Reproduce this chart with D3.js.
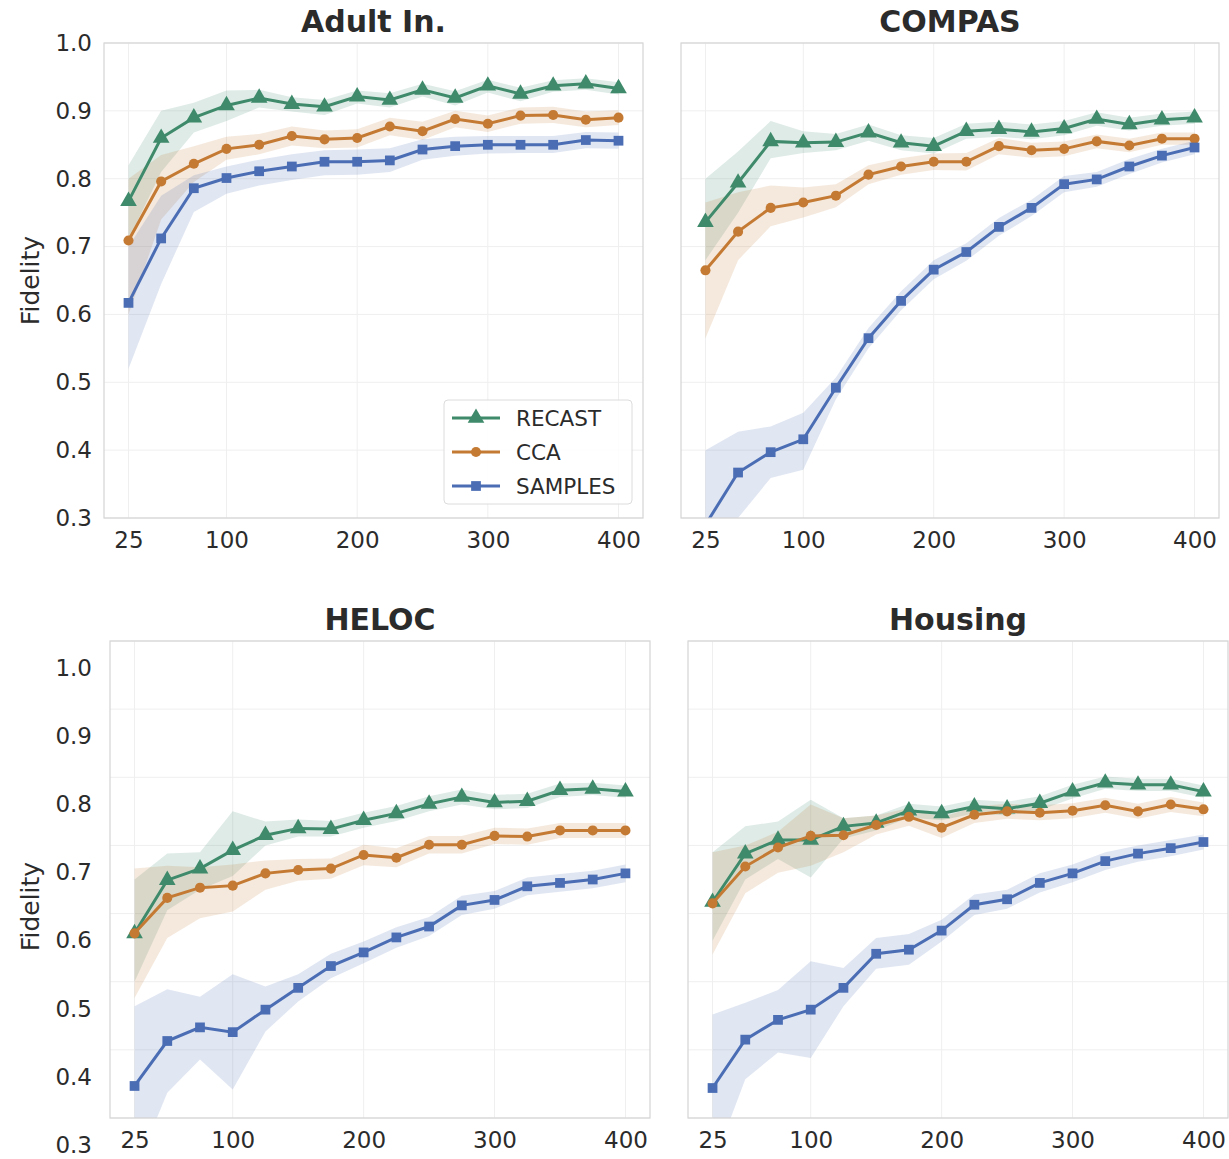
<!DOCTYPE html>
<html>
<head>
<meta charset="utf-8">
<script src="https://cdn.jsdelivr.net/npm/d3@7"></script>
<style>
  body { margin: 0; background: #fff; }
  svg { display: block; font-family: "DejaVu Sans", sans-serif; }
</style>
</head>
<body>
<div class="chart"></div>
<script>
// Sample sizes on the x axis
const sizes = [25, 50, 75, 100, 125, 150, 175, 200, 225, 250, 275, 300, 325, 350, 375, 400];
const xTicks = [25, 100, 200, 300, 400];
const yTicks = [0.3, 0.4, 0.5, 0.6, 0.7, 0.8, 0.9, 1.0];
const datasets = ["Adult In.", "COMPAS", "HELOC", "Housing"];
const methods = ["RECAST", "CCA", "SAMPLES"];

// Adult In.
const adultRecast   = [0.767, 0.860, 0.890, 0.908, 0.919, 0.910, 0.906, 0.921, 0.916, 0.931, 0.919, 0.937, 0.925, 0.937, 0.940, 0.933];
const adultRecastLo = [0.71, 0.81, 0.868, 0.885, 0.905, 0.899, 0.894, 0.911, 0.905, 0.921, 0.908, 0.927, 0.914, 0.928, 0.931, 0.924];
const adultRecastHi = [0.82, 0.90, 0.912, 0.930, 0.931, 0.920, 0.916, 0.930, 0.926, 0.940, 0.929, 0.946, 0.934, 0.945, 0.948, 0.942];
const adultCca      = [0.709, 0.796, 0.822, 0.844, 0.850, 0.863, 0.858, 0.860, 0.877, 0.870, 0.888, 0.881, 0.893, 0.894, 0.887, 0.890];
const adultCcaLo    = [0.60, 0.74, 0.795, 0.828, 0.836, 0.849, 0.845, 0.846, 0.864, 0.857, 0.876, 0.869, 0.881, 0.882, 0.876, 0.879];
const adultCcaHi    = [0.80, 0.835, 0.848, 0.862, 0.866, 0.877, 0.871, 0.873, 0.890, 0.884, 0.900, 0.893, 0.905, 0.906, 0.899, 0.901];
const adultSamples   = [0.617, 0.712, 0.786, 0.801, 0.811, 0.818, 0.825, 0.825, 0.827, 0.843, 0.848, 0.850, 0.850, 0.850, 0.857, 0.856];
const adultSamplesLo = [0.52, 0.645, 0.751, 0.778, 0.790, 0.798, 0.805, 0.806, 0.810, 0.828, 0.834, 0.837, 0.838, 0.838, 0.845, 0.844];
const adultSamplesHi = [0.70, 0.775, 0.805, 0.818, 0.828, 0.836, 0.842, 0.843, 0.845, 0.858, 0.862, 0.863, 0.863, 0.863, 0.869, 0.868];

// COMPAS
const compasRecast   = [0.736, 0.794, 0.855, 0.853, 0.854, 0.868, 0.853, 0.848, 0.870, 0.873, 0.869, 0.874, 0.888, 0.880, 0.887, 0.890];
const compasRecastLo = [0.68, 0.75, 0.83, 0.838, 0.842, 0.856, 0.842, 0.837, 0.859, 0.862, 0.858, 0.864, 0.878, 0.871, 0.878, 0.881];
const compasRecastHi = [0.80, 0.84, 0.885, 0.870, 0.866, 0.880, 0.864, 0.860, 0.881, 0.884, 0.880, 0.885, 0.898, 0.890, 0.896, 0.899];
const compasCca      = [0.665, 0.722, 0.757, 0.765, 0.775, 0.806, 0.818, 0.825, 0.825, 0.848, 0.842, 0.844, 0.855, 0.849, 0.859, 0.859];
const compasCcaLo    = [0.565, 0.68, 0.73, 0.743, 0.758, 0.792, 0.806, 0.813, 0.812, 0.836, 0.831, 0.833, 0.845, 0.839, 0.850, 0.850];
const compasCcaHi    = [0.765, 0.78, 0.79, 0.787, 0.792, 0.820, 0.830, 0.837, 0.838, 0.860, 0.853, 0.855, 0.865, 0.859, 0.868, 0.868];
const compasSamples   = [0.29, 0.367, 0.397, 0.416, 0.492, 0.565, 0.620, 0.666, 0.692, 0.729, 0.757, 0.792, 0.799, 0.818, 0.834, 0.846];
const compasSamplesLo = [0.17, 0.30, 0.359, 0.371, 0.475, 0.550, 0.606, 0.652, 0.679, 0.716, 0.745, 0.780, 0.788, 0.807, 0.824, 0.836];
const compasSamplesHi = [0.40, 0.427, 0.435, 0.455, 0.507, 0.580, 0.634, 0.680, 0.705, 0.742, 0.769, 0.804, 0.810, 0.829, 0.844, 0.856];

// HELOC
const helocRecast   = [0.571, 0.649, 0.666, 0.693, 0.715, 0.725, 0.724, 0.737, 0.747, 0.761, 0.771, 0.763, 0.765, 0.781, 0.783, 0.779];
const helocRecastLo = [0.50, 0.605, 0.635, 0.655, 0.700, 0.713, 0.713, 0.726, 0.736, 0.750, 0.760, 0.753, 0.755, 0.771, 0.774, 0.770];
const helocRecastHi = [0.65, 0.688, 0.690, 0.750, 0.735, 0.738, 0.736, 0.748, 0.758, 0.772, 0.782, 0.774, 0.776, 0.791, 0.792, 0.788];
const helocCca      = [0.571, 0.623, 0.638, 0.641, 0.659, 0.664, 0.666, 0.686, 0.682, 0.701, 0.701, 0.714, 0.713, 0.722, 0.722, 0.722];
const helocCcaLo    = [0.476, 0.564, 0.593, 0.603, 0.635, 0.648, 0.651, 0.671, 0.668, 0.688, 0.688, 0.702, 0.701, 0.711, 0.711, 0.711];
const helocCcaHi    = [0.666, 0.670, 0.668, 0.672, 0.678, 0.680, 0.681, 0.701, 0.696, 0.714, 0.714, 0.726, 0.725, 0.733, 0.733, 0.733];
const helocSamples   = [0.347, 0.413, 0.433, 0.426, 0.459, 0.491, 0.523, 0.543, 0.565, 0.581, 0.612, 0.620, 0.640, 0.645, 0.650, 0.659];
const helocSamplesLo = [0.22, 0.337, 0.386, 0.342, 0.427, 0.471, 0.505, 0.527, 0.550, 0.567, 0.598, 0.607, 0.627, 0.632, 0.637, 0.646];
const helocSamplesHi = [0.464, 0.489, 0.478, 0.511, 0.493, 0.511, 0.541, 0.559, 0.580, 0.595, 0.626, 0.633, 0.653, 0.658, 0.663, 0.672];

// Housing
const housingRecast   = [0.617, 0.688, 0.708, 0.708, 0.728, 0.733, 0.751, 0.747, 0.757, 0.754, 0.762, 0.779, 0.792, 0.789, 0.789, 0.779];
const housingRecastLo = [0.56, 0.65, 0.68, 0.653, 0.71, 0.722, 0.741, 0.737, 0.747, 0.744, 0.752, 0.769, 0.783, 0.780, 0.780, 0.770];
const housingRecastHi = [0.69, 0.728, 0.735, 0.767, 0.74, 0.744, 0.761, 0.757, 0.767, 0.764, 0.772, 0.789, 0.801, 0.798, 0.798, 0.788];
const housingCca      = [0.615, 0.669, 0.697, 0.714, 0.715, 0.730, 0.742, 0.726, 0.745, 0.750, 0.748, 0.751, 0.759, 0.750, 0.760, 0.753];
const housingCcaLo    = [0.54, 0.63, 0.66, 0.67, 0.69, 0.716, 0.729, 0.711, 0.733, 0.739, 0.737, 0.740, 0.748, 0.739, 0.749, 0.743];
const housingCcaHi    = [0.69, 0.70, 0.72, 0.76, 0.74, 0.744, 0.755, 0.741, 0.757, 0.761, 0.759, 0.762, 0.770, 0.761, 0.771, 0.763];
const housingSamples   = [0.344, 0.415, 0.444, 0.459, 0.491, 0.541, 0.547, 0.575, 0.613, 0.621, 0.645, 0.659, 0.677, 0.688, 0.696, 0.705];
const housingSamplesLo = [0.229, 0.357, 0.396, 0.388, 0.464, 0.519, 0.525, 0.559, 0.598, 0.607, 0.631, 0.646, 0.664, 0.676, 0.684, 0.694];
const housingSamplesHi = [0.452, 0.469, 0.488, 0.530, 0.520, 0.564, 0.570, 0.591, 0.628, 0.635, 0.659, 0.672, 0.690, 0.700, 0.708, 0.716];

// Colors and marker shapes per method
const colors = { RECAST: "#3e8a6b", CCA: "#c47a33", SAMPLES: "#4a6db4" };
const symbols = { RECAST: d3.symbolTriangle, CCA: d3.symbolCircle, SAMPLES: d3.symbolSquare };
const symbolSizes = { RECAST: 120, CCA: 80, SAMPLES: 95 };

// Panel layout (frames in pixels)
const panels = [
  { title: datasets[0], x0: 104, x1: 643, y0: 43, y1: 518, yLabels: true, tickGap: 12, labelShift: 0, legend: true,
    series: [[adultRecast, adultRecastLo, adultRecastHi], [adultCca, adultCcaLo, adultCcaHi], [adultSamples, adultSamplesLo, adultSamplesHi]] },
  { title: datasets[1], x0: 681, x1: 1219, y0: 43, y1: 518, yLabels: false, tickGap: 12, labelShift: 0, legend: false,
    series: [[compasRecast, compasRecastLo, compasRecastHi], [compasCca, compasCcaLo, compasCcaHi], [compasSamples, compasSamplesLo, compasSamplesHi]] },
  { title: datasets[2], x0: 110, x1: 650, y0: 641, y1: 1118, yLabels: true, tickGap: 18, labelShift: 27, legend: false,
    series: [[helocRecast, helocRecastLo, helocRecastHi], [helocCca, helocCcaLo, helocCcaHi], [helocSamples, helocSamplesLo, helocSamplesHi]] },
  { title: datasets[3], x0: 688, x1: 1228, y0: 641, y1: 1118, yLabels: false, tickGap: 12, labelShift: 0, legend: false,
    series: [[housingRecast, housingRecastLo, housingRecastHi], [housingCca, housingCcaLo, housingCcaHi], [housingSamples, housingSamplesLo, housingSamplesHi]] }
];

const textColor = "#2b2b2b";

const svg = d3.select(".chart")
    .append("svg")
    .attr("width", 1229)
    .attr("height", 1159);

panels.forEach((p, pi) => {
    const xScale = d3.scaleLinear().domain([6.25, 418.75]).range([p.x0, p.x1]);
    const yScale = d3.scaleLinear().domain([0.3, 1.0]).range([p.y1, p.y0]);

    const g = svg.append("g");

    // clip to the axes frame
    const clipId = "clip" + pi;
    svg.append("clipPath").attr("id", clipId)
        .append("rect")
        .attr("x", p.x0).attr("y", p.y0)
        .attr("width", p.x1 - p.x0).attr("height", p.y1 - p.y0);

    // grid lines
    g.selectAll(".vgrid")
        .data(xTicks)
        .enter()
        .append("line")
        .attr("x1", d => xScale(d)).attr("x2", d => xScale(d))
        .attr("y1", p.y0).attr("y2", p.y1)
        .attr("stroke", "#efefef").attr("stroke-width", 1);
    g.selectAll(".hgrid")
        .data(yTicks)
        .enter()
        .append("line")
        .attr("x1", p.x0).attr("x2", p.x1)
        .attr("y1", d => yScale(d)).attr("y2", d => yScale(d))
        .attr("stroke", "#efefef").attr("stroke-width", 1);

    const plot = g.append("g").attr("clip-path", `url(#${clipId})`);

    const area = d3.area()
        .x(d => xScale(d.x))
        .y0(d => yScale(d.lo))
        .y1(d => yScale(d.hi));
    const line = d3.line()
        .x(d => xScale(d.x))
        .y(d => yScale(d.y));

    // confidence bands first
    methods.forEach((m, mi) => {
        const [mean, lo, hi] = p.series[mi];
        const rows = sizes.map((x, i) => ({ x, y: mean[i], lo: lo[i], hi: hi[i] }));
        plot.append("path")
            .attr("d", area(rows))
            .attr("fill", colors[m])
            .attr("fill-opacity", 0.17);
    });

    // lines and markers
    methods.forEach((m, mi) => {
        const [mean] = p.series[mi];
        const rows = sizes.map((x, i) => ({ x, y: mean[i] }));
        plot.append("path")
            .attr("d", line(rows))
            .attr("fill", "none")
            .attr("stroke", colors[m])
            .attr("stroke-width", 3);
        plot.selectAll(".mark" + mi)
            .data(rows)
            .enter()
            .append("path")
            .attr("d", d3.symbol().type(symbols[m]).size(symbolSizes[m]))
            .attr("transform", d => `translate(${xScale(d.x)},${yScale(d.y)})`)
            .attr("fill", colors[m]);
    });

    // frame
    g.append("rect")
        .attr("x", p.x0).attr("y", p.y0)
        .attr("width", p.x1 - p.x0).attr("height", p.y1 - p.y0)
        .attr("fill", "none")
        .attr("stroke", "#d4d4d4")
        .attr("stroke-width", 1.2);

    // x axis labels
    const xAxis = d3.axisBottom(xScale).tickValues(xTicks).tickSize(0).tickPadding(14);
    const xg = g.append("g")
        .attr("transform", `translate(0,${p.y1})`)
        .call(xAxis);
    xg.select(".domain").remove();
    xg.selectAll("text")
        .attr("font-size", 23)
        .attr("font-family", "DejaVu Sans")
        .attr("fill", textColor);

    // y axis labels (left column only)
    if (p.yLabels) {
        const yAxis = d3.axisLeft(yScale).tickValues(yTicks).tickFormat(d3.format(".1f")).tickSize(0).tickPadding(p.tickGap);
        const yg = g.append("g")
            .attr("transform", `translate(${p.x0},${p.labelShift})`)
            .call(yAxis);
        yg.select(".domain").remove();
        yg.selectAll("text")
            .attr("font-size", 23)
            .attr("font-family", "DejaVu Sans")
            .attr("fill", textColor);

        g.append("text")
            .attr("transform", `translate(39,${(p.y0 + p.y1) / 2 + p.labelShift}) rotate(-90)`)
            .attr("text-anchor", "middle")
            .attr("font-size", 25)
            .attr("fill", textColor)
            .text("Fidelity");
    }

    // title
    g.append("text")
        .attr("x", (p.x0 + p.x1) / 2)
        .attr("y", p.y0 - 11)
        .attr("text-anchor", "middle")
        .attr("font-size", 30)
        .attr("font-weight", "bold")
        .attr("fill", textColor)
        .text(p.title);

    // legend
    if (p.legend) {
        const lg = g.append("g").attr("transform", "translate(444,400)");
        lg.append("rect")
            .attr("width", 188).attr("height", 104)
            .attr("rx", 4)
            .attr("fill", "#fff").attr("fill-opacity", 0.85)
            .attr("stroke", "#dcdcdc");
        methods.forEach((m, i) => {
            const yy = 18 + i * 34;
            lg.append("line")
                .attr("x1", 8).attr("x2", 56)
                .attr("y1", yy).attr("y2", yy)
                .attr("stroke", colors[m]).attr("stroke-width", 3);
            lg.append("path")
                .attr("d", d3.symbol().type(symbols[m]).size(symbolSizes[m]))
                .attr("transform", `translate(32,${yy})`)
                .attr("fill", colors[m]);
            lg.append("text")
                .attr("x", 72).attr("y", yy)
                .attr("dy", "0.35em")
                .attr("font-size", 21.5)
                .attr("fill", textColor)
                .text(m);
        });
    }
});
</script>
</body>
</html>
